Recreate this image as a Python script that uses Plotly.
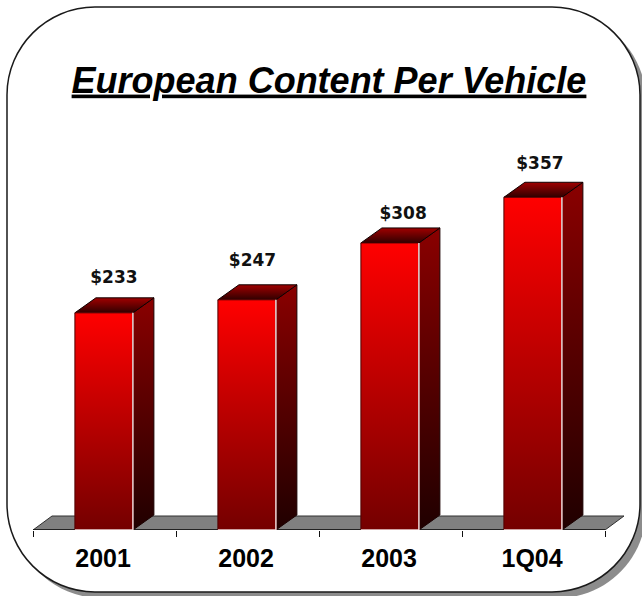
import plotly.graph_objects as go

categories = ["2001", "2002", "2003", "1Q04"]
content_per_vehicle = [233, 247, 308, 357]
value_labels = ["$233", "$247", "$308", "$357"]
label_dx = [0.066, 0.035, 0.088, 0.045]     # label shift from the category centre, category units
label_dy = [36.5, 41, 30, 34.5]             # label lift above the bar top, dollars

# Canvas and axis geometry in pixels
WIDTH, HEIGHT = 642, 596
LEFT, RIGHT, BASE = 33, 605, 530
PLOT_RIGHT = 628
Y_PX_PER_DOLLAR = 0.932
X_PX_PER_CAT = (RIGHT - LEFT) / len(categories)

# Bar shape, in axis units
BAR_HALF = 29 / X_PX_PER_CAT
BAR_SHIFT = -0.6 / X_PX_PER_CAT
DEPTH_X = 21 / X_PX_PER_CAT
DEPTH_Y = 15 / Y_PX_PER_DOLLAR
FLOOR_X = 19 / X_PX_PER_CAT
FLOOR_Y = 14 / Y_PX_PER_DOLLAR


def gradient(top, bottom):
    return dict(type="vertical", colorscale=[[0, bottom], [1, top]])


def face(xs, ys, **kw):
    return go.Scatter(x=xs, y=ys, mode="lines", fill="toself", showlegend=False,
                      hoverinfo="skip", cliponaxis=False, **kw)


def edge(xs, ys, color, width=1):
    return go.Scatter(x=xs, y=ys, mode="lines", line=dict(color=color, width=width),
                      showlegend=False, hoverinfo="skip", cliponaxis=False)


fig = go.Figure()

# Grey floor the bars stand on, with the baseline along its front edge
n = len(categories)
fig.add_trace(face([0, FLOOR_X, n + FLOOR_X, n, 0], [0, FLOOR_Y, FLOOR_Y, 0, 0],
                   fillcolor="#808080", line=dict(color="#303030", width=1)))
fig.add_trace(edge([0, n], [0, 0], "#111111", 1.5))

for i, value in enumerate(content_per_vehicle):
    x0 = i + 0.5 + BAR_SHIFT - BAR_HALF
    x1 = i + 0.5 + BAR_SHIFT + BAR_HALF
    # side face
    fig.add_trace(face([x1, x1 + DEPTH_X, x1 + DEPTH_X, x1, x1],
                       [0, DEPTH_Y, value + DEPTH_Y, value, 0],
                       fillgradient=gradient("#8a0000", "#200000"),
                       line=dict(color="#1a0000", width=1)))
    # top face
    fig.add_trace(face([x0, x0 + DEPTH_X, x1 + DEPTH_X, x1, x0],
                       [value, value + DEPTH_Y, value + DEPTH_Y, value, value],
                       fillgradient=gradient("#a00000", "#300000"),
                       line=dict(color="#100000", width=1)))
    # front face
    fig.add_trace(face([x0, x1, x1, x0, x0], [0, 0, value, value, 0],
                       fillgradient=gradient("#ff0000", "#740000"),
                       line=dict(color="#500000", width=1)))
    # pale highlight along the front face's right and bottom edges
    fig.add_trace(edge([x0, x1, x1], [0, 0, value], "#f2d8d8", 1.5))

# Value labels above each bar
fig.add_trace(go.Scatter(
    x=[i + 0.5 + d for i, d in enumerate(label_dx)],
    y=[v + d for v, d in zip(content_per_vehicle, label_dy)],
    mode="text", text=value_labels, textposition="middle center",
    textfont=dict(family="DejaVu Sans", size=17, color="#111111", weight="bold"),
    showlegend=False, hoverinfo="skip", cliponaxis=False))


def px(x):
    return (x - LEFT) / (PLOT_RIGHT - LEFT)


def py(y):
    return (BASE - y) / BASE


def rounded_panel(x0, y0, x1, y1, r):
    k = r * 0.45
    pts = [("M", x0 + r, y0), ("L", x1 - r, y0),
           ("C", x1 - k, y0, x1, y0 + k, x1, y0 + r), ("L", x1, y1 - r),
           ("C", x1, y1 - k, x1 - k, y1, x1 - r, y1), ("L", x0 + r, y1),
           ("C", x0 + k, y1, x0, y1 - k, x0, y1 - r), ("L", x0, y0 + r),
           ("C", x0, y0 + k, x0 + k, y0, x0 + r, y0)]
    parts = []
    for p in pts:
        coords = p[1:]
        pairs = [f"{px(coords[j]):.5f},{py(coords[j + 1]):.5f}" for j in range(0, len(coords), 2)]
        parts.append(p[0] + " ".join(pairs))
    return " ".join(parts) + " Z"


shapes = [
    dict(type="path", xref="paper", yref="paper", layer="below",
         path=rounded_panel(13, 13, 646, 598, 88), fillcolor="#8c8c8c", line=dict(width=0)),
    dict(type="path", xref="paper", yref="paper", layer="below",
         path=rounded_panel(7, 7, 640, 592, 88), fillcolor="white",
         line=dict(color="#1a1a1a", width=1.5)),
]

fig.update_layout(
    width=WIDTH, height=HEIGHT,
    autosize=False,
    margin=dict(l=LEFT, r=WIDTH - PLOT_RIGHT, t=0, b=HEIGHT - BASE, pad=0),
    paper_bgcolor="white", plot_bgcolor="rgba(0,0,0,0)",
    shapes=shapes,
    showlegend=False,
    title=dict(
        text="European Content Per Vehicle",
        x=(71 + 587) / 2 / WIDTH, xanchor="center",
        y=1 - 80 / HEIGHT, yanchor="middle",
        font=dict(family="Liberation Sans", size=36, color="black",
                  weight="bold", style="italic", lineposition="under"),
    ),
    xaxis=dict(
        range=[0, (PLOT_RIGHT - LEFT) / X_PX_PER_CAT], showgrid=False, zeroline=False,
        showline=False,
        tickvals=[i + 0.49 for i in range(n)], ticktext=categories, ticks="",
        ticklabelstandoff=11,
        tickfont=dict(family="Liberation Sans", size=25, color="black", weight="bold"),
        minor=dict(tickvals=list(range(n + 1)), ticks="outside", ticklen=6,
                   tickcolor="#111111", tickwidth=1, showgrid=False),
        fixedrange=True,
    ),
    yaxis=dict(range=[0, BASE / Y_PX_PER_DOLLAR], visible=False, fixedrange=True),
)

fig.write_html("out.html")
